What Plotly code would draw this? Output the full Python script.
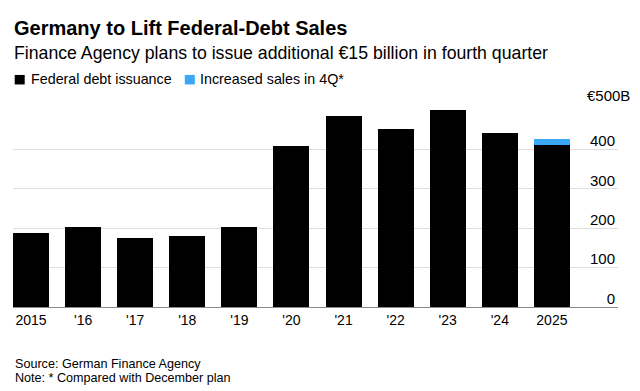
import plotly.graph_objects as go

years = [2015, 2016, 2017, 2018, 2019, 2020, 2021, 2022, 2023, 2024, 2025]
year_labels = ["2015", "'16", "'17", "'18", "'19", "'20", "'21", "'22", "'23", "'24", "2025"]
issuance = [187, 202, 175, 180, 203, 408, 485, 451, 500, 441, 411]
increase_years = [2025]
increase = [15]
series_names = ["Federal debt issuance", "Increased sales in 4Q*"]

y_ticks = [0, 100, 200, 300, 400, 500]
y_ticktext = ["0", "100", "200", "300", "400", "€500B"]

BLACK = "#000000"
BLUE = "#3ba8f5"
FONT = "Liberation Sans, Arial, Helvetica, sans-serif"

W, H = 640, 391
PL, PR, PT, PB = 13.3, 618, 110, 306.7  # plot area in pixels
L, R, T, B = PL, W - PR, PT, H - PB
pw, ph = PR - PL, PB - PT


def px(x):
    return (x - PL) / pw


def py(y):
    return (PB - y) / ph


fig = go.Figure()
fig.add_trace(go.Bar(x=years, y=issuance, name=series_names[0],
                     marker=dict(color=BLACK, line=dict(width=0)), width=0.69))
fig.add_trace(go.Bar(x=increase_years, y=increase, name=series_names[1],
                     marker=dict(color=BLUE, line=dict(width=0)), width=0.69))

axis_ticktext = y_ticktext[:-1] + [""]

annotations = [
    dict(text="<b>Germany to Lift Federal-Debt Sales</b>", xref="paper", yref="paper",
         x=px(12), y=py(28), xanchor="left", yanchor="middle", showarrow=False,
         font=dict(size=20, family=FONT, color="#000")),
    dict(text="Finance Agency plans to issue additional €15 billion in fourth quarter",
         xref="paper", yref="paper", x=px(12), y=py(53.5), xanchor="left", yanchor="middle",
         showarrow=False, font=dict(size=17.7, family=FONT, color="#000")),
    dict(text=series_names[0], xref="paper", yref="paper", x=px(29.5), y=py(79.5),
         xanchor="left", yanchor="middle", showarrow=False,
         font=dict(size=14.3, family=FONT, color="#000")),
    dict(text=series_names[1], xref="paper", yref="paper", x=px(198.5), y=py(79.5),
         xanchor="left", yanchor="middle", showarrow=False,
         font=dict(size=14.3, family=FONT, color="#000")),
    dict(text=y_ticktext[-1], xref="paper", yref="y", x=px(632), y=y_ticks[-1],
         xanchor="right", yanchor="bottom", yshift=4, showarrow=False,
         font=dict(size=15, family=FONT, color="#000")),
    dict(text="Source: German Finance Agency", xref="paper", yref="paper",
         x=px(13), y=py(363.5), xanchor="left", yanchor="middle", showarrow=False,
         font=dict(size=12.6, family=FONT, color="#000")),
    dict(text="Note: * Compared with December plan", xref="paper", yref="paper",
         x=px(13), y=py(377.7), xanchor="left", yanchor="middle", showarrow=False,
         font=dict(size=12.6, family=FONT, color="#000")),
]

shapes = [
    dict(type="rect", xref="paper", yref="paper", x0=px(15), x1=px(25), y0=py(84.5), y1=py(75),
         fillcolor=BLACK, line=dict(width=0)),
    dict(type="rect", xref="paper", yref="paper", x0=px(185), x1=px(195), y0=py(84.5), y1=py(75),
         fillcolor=BLUE, line=dict(width=0)),
]

fig.update_layout(
    width=W, height=H,
    margin=dict(l=L, r=R, t=T, b=B, pad=0, autoexpand=False),
    barmode="stack",
    showlegend=False,
    plot_bgcolor="white", paper_bgcolor="white",
    font=dict(family=FONT, color="#000000", size=13),
    xaxis=dict(
        tickmode="array", tickvals=years, ticktext=year_labels,
        range=[2014.654, 2026.269],
        showgrid=False, zeroline=False, automargin=False,
        showline=True, linecolor="#8a8a8a", linewidth=1,
        ticks="", tickfont=dict(size=14, family=FONT, color="#000"),
        fixedrange=True,
    ),
    yaxis=dict(
        side="right",
        range=[0, 500], automargin=False,
        tickmode="array", tickvals=y_ticks, ticktext=axis_ticktext,
        ticklabelposition="inside top",
        ticklabeloverflow="allow",
        ticklabelshift=2,
        showgrid=True, gridcolor="#dedede", gridwidth=1,
        zeroline=False, showline=False, ticks="",
        tickfont=dict(size=15, family=FONT, color="#000"),
        fixedrange=True,
    ),
    annotations=annotations,
    shapes=shapes,
)

fig.write_html("out.html", config={"displayModeBar": False},
               post_script="document.body.style.margin='0';")
